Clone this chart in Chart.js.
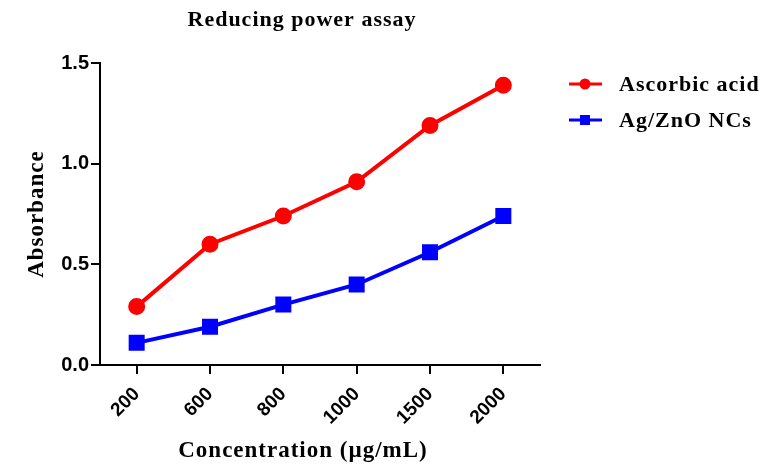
<!DOCTYPE html>
<html>
<head>
<meta charset="utf-8">
<script src="https://cdn.jsdelivr.net/npm/chart.js@4/dist/chart.umd.min.js"></script>
<style>
  html, body { margin: 0; padding: 0; background: #fff; }
  #wrap { width: 776px; height: 465px; }
</style>
</head>
<body>
<div id="wrap"><canvas id="chart" width="776" height="465"></canvas></div>
<script>
const concentrations = ['200', '600', '800', '1000', '1500', '2000'];
const ascorbicAcid = [0.29, 0.60, 0.74, 0.91, 1.19, 1.39];
const agZnO = [0.11, 0.19, 0.30, 0.40, 0.56, 0.74];
const yTicks = [0, 0.5, 1.0, 1.5];

const serif = '"Liberation Serif", "Times New Roman", serif';
const sans = '"Liberation Sans", Arial, sans-serif';

// title, axis titles and legend drawn by hand (letter-spaced serif, like the original)
const extras = {
    id: 'extras',
    afterDraw(chart) {
        const ctx = chart.ctx;
        ctx.save();
        ctx.fillStyle = '#000';
        ctx.textBaseline = 'middle';
        ctx.textAlign = 'center';
        ctx.letterSpacing = '1px';
        ctx.font = 'bold 22px ' + serif;
        ctx.fillText('Reducing power assay', 302, 20);
        ctx.font = 'bold 23px ' + serif;
        ctx.fillText('Concentration (\u00b5g/mL)', 303, 451);

        ctx.save();
        ctx.translate(37, 214);
        ctx.rotate(-Math.PI / 2);
        ctx.fillText('Absorbance', 0, 0);
        ctx.restore();

        ctx.textAlign = 'left';
        ctx.font = 'bold 22px ' + serif;
        chart.data.datasets.forEach((ds, i) => {
            const y = 84 + i * 36;
            ctx.strokeStyle = ds.borderColor;
            ctx.lineWidth = 3;
            ctx.beginPath();
            ctx.moveTo(569, y);
            ctx.lineTo(602, y);
            ctx.stroke();
            ctx.fillStyle = ds.borderColor;
            if (ds.pointStyle === 'rect') {
                ctx.fillRect(580, y - 5, 10, 10);
            } else {
                ctx.beginPath();
                ctx.arc(585, y, 5.5, 0, Math.PI * 2);
                ctx.fill();
            }
            ctx.fillStyle = '#000';
            ctx.fillText(ds.label, 619, y + 1);
        });
        ctx.restore();
    }
};

new Chart(document.getElementById('chart'), {
    type: 'line',
    data: {
        labels: concentrations,
        datasets: [
            {
                label: 'Ascorbic acid',
                data: ascorbicAcid,
                borderColor: '#ff0000',
                backgroundColor: '#ff0000',
                borderWidth: 4,
                pointStyle: 'circle',
                pointRadius: 6.5,
                tension: 0
            },
            {
                label: 'Ag/ZnO NCs',
                data: agZnO,
                borderColor: '#0000ff',
                backgroundColor: '#0000ff',
                borderWidth: 4,
                pointStyle: 'rect',
                pointRadius: 8.5,
                tension: 0
            }
        ]
    },
    options: {
        responsive: false,
        animation: false,
        layout: { padding: { left: 0, top: 63, right: 236, bottom: 0 } },
        plugins: {
            legend: { display: false },
            title: { display: false },
            tooltip: { enabled: false }
        },
        scales: {
            x: {
                offset: true,
                afterFit: scale => { scale.height = 100; },
                border: { color: '#000', width: 2 },
                grid: { drawOnChartArea: false, color: '#000', lineWidth: 2, tickLength: 9 },
                ticks: {
                    color: '#000',
                    font: { family: sans, size: 19, weight: 'bold' },
                    minRotation: 45,
                    maxRotation: 45,
                    padding: 9
                }
            },
            y: {
                min: 0,
                max: 1.5,
                afterFit: scale => { scale.width = 100; },
                afterBuildTicks: scale => { scale.ticks = yTicks.map(v => ({ value: v })); },
                border: { color: '#000', width: 2 },
                grid: { drawOnChartArea: false, color: '#000', lineWidth: 2, tickLength: 9 },
                ticks: {
                    color: '#000',
                    font: { family: sans, size: 20, weight: 'bold' },
                    padding: 2,
                    callback: v => Number(v).toFixed(1)
                }
            }
        }
    },
    plugins: [extras]
});
</script>
</body>
</html>
